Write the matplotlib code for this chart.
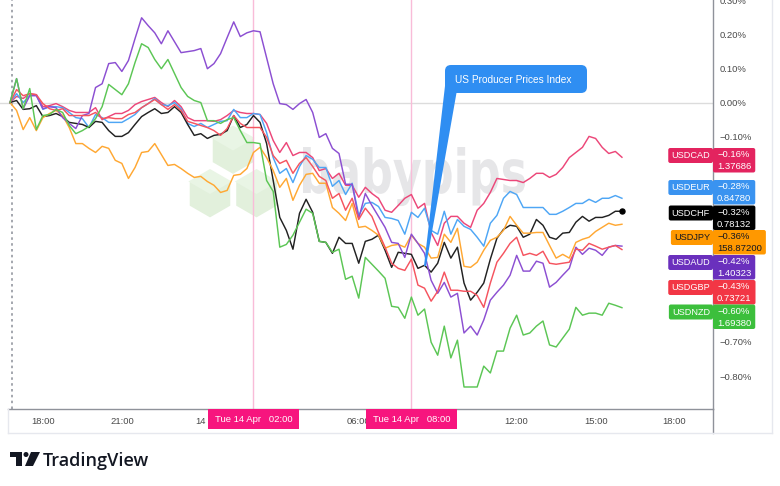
import numpy as np
import pandas as pd
import matplotlib
matplotlib.use('Agg')
import matplotlib.pyplot as plt
import matplotlib.dates as mdates
from matplotlib.patches import Rectangle, FancyBboxPatch, Polygon, Circle, PathPatch
from matplotlib.lines import Line2D
from matplotlib.transforms import IdentityTransform, Affine2D
from matplotlib.textpath import TextPath
from matplotlib.font_manager import FontProperties

plt.rcParams['font.family'] = ['Liberation Sans', 'DejaVu Sans']

# ---------------- data (percent change) ----------------
start_time = '2026-04-13 16:45'
bar_minutes = 15

usdcad = [0.000, 0.018, 0.012, 0.026, 0.023, -0.012, -0.009, -0.003, -0.012, -0.023,
          -0.029, -0.029, -0.029, -0.015, -0.050, -0.041, -0.032, -0.032, -0.023, -0.006,
          0.003, 0.009, 0.015, 0.000, -0.012, 0.006, -0.012, -0.044, -0.053, -0.053,
          -0.053, -0.055, -0.050, -0.038, -0.023, -0.029, -0.032, -0.032, -0.035, -0.061,
          -0.111, -0.146, -0.117, -0.155, -0.146, -0.146, -0.161, -0.199, -0.193, -0.222,
          -0.207, -0.242, -0.242, -0.277, -0.248, -0.266, -0.280, -0.315, -0.321, -0.301,
          -0.280, -0.269, -0.309, -0.295, -0.380, -0.418, -0.353, -0.333, -0.333, -0.353,
          -0.365, -0.315, -0.295, -0.263, -0.222, -0.225, -0.228, -0.228, -0.234, -0.222,
          -0.207, -0.207, -0.219, -0.210, -0.190, -0.161, -0.146, -0.131, -0.099, -0.105,
          -0.131, -0.149, -0.143, -0.160]

usdeur = [0.000, 0.026, 0.000, 0.020, 0.023, -0.020, -0.012, -0.012, -0.015, -0.029,
          -0.044, -0.047, -0.073, -0.035, -0.044, -0.058, -0.058, -0.058, -0.047, -0.035,
          -0.015, -0.003, 0.012, -0.006, -0.009, 0.000, -0.018, -0.061, -0.070, -0.061,
          -0.073, -0.064, -0.055, -0.053, -0.020, -0.044, -0.044, -0.032, -0.035, -0.088,
          -0.161, -0.207, -0.193, -0.234, -0.187, -0.155, -0.166, -0.190, -0.190, -0.245,
          -0.228, -0.269, -0.236, -0.330, -0.295, -0.292, -0.304, -0.336, -0.339, -0.345,
          -0.385, -0.321, -0.336, -0.309, -0.374, -0.385, -0.318, -0.385, -0.342, -0.362,
          -0.371, -0.394, -0.420, -0.353, -0.330, -0.280, -0.260, -0.269, -0.307, -0.307,
          -0.307, -0.307, -0.327, -0.327, -0.318, -0.307, -0.295, -0.295, -0.283, -0.292,
          -0.280, -0.280, -0.272, -0.280]

usdchf = [0.000, 0.006, -0.020, -0.018, -0.009, -0.041, -0.038, -0.032, -0.041, -0.058,
          -0.061, -0.064, -0.073, -0.055, -0.058, -0.082, -0.099, -0.099, -0.088, -0.064,
          -0.041, -0.029, -0.018, -0.032, -0.029, -0.012, -0.029, -0.064, -0.096, -0.091,
          -0.105, -0.096, -0.093, -0.082, -0.038, -0.073, -0.064, -0.038, -0.058, -0.120,
          -0.228, -0.336, -0.374, -0.429, -0.324, -0.283, -0.321, -0.406, -0.409, -0.441,
          -0.394, -0.412, -0.412, -0.470, -0.406, -0.400, -0.388, -0.432, -0.482, -0.438,
          -0.441, -0.444, -0.485, -0.476, -0.496, -0.470, -0.409, -0.455, -0.423, -0.528,
          -0.578, -0.555, -0.528, -0.458, -0.397, -0.371, -0.359, -0.362, -0.394, -0.385,
          -0.342, -0.359, -0.394, -0.400, -0.382, -0.380, -0.350, -0.333, -0.347, -0.336,
          -0.336, -0.330, -0.318, -0.318]

usdjpy = [0.000, -0.023, -0.079, -0.044, -0.082, -0.044, -0.032, -0.023, -0.038, -0.073,
          -0.120, -0.120, -0.134, -0.146, -0.128, -0.134, -0.169, -0.178, -0.222, -0.190,
          -0.146, -0.143, -0.120, -0.152, -0.184, -0.181, -0.193, -0.207, -0.219, -0.216,
          -0.231, -0.242, -0.263, -0.257, -0.213, -0.210, -0.193, -0.146, -0.131, -0.161,
          -0.199, -0.248, -0.222, -0.286, -0.242, -0.210, -0.207, -0.236, -0.236, -0.307,
          -0.324, -0.345, -0.295, -0.365, -0.362, -0.374, -0.388, -0.426, -0.418, -0.415,
          -0.423, -0.388, -0.412, -0.423, -0.455, -0.453, -0.385, -0.409, -0.368, -0.479,
          -0.482, -0.467, -0.432, -0.403, -0.394, -0.374, -0.333, -0.359, -0.382, -0.382,
          -0.380, -0.380, -0.418, -0.455, -0.444, -0.455, -0.409, -0.400, -0.394, -0.377,
          -0.365, -0.353, -0.359, -0.356]

usdaud = [0.000, 0.070, -0.018, 0.020, 0.020, -0.018, -0.012, -0.015, -0.044, -0.061,
          -0.076, -0.038, -0.032, 0.044, 0.055, 0.114, 0.117, 0.091, 0.123, 0.187,
          0.248, 0.225, 0.204, 0.172, 0.210, 0.178, 0.146, 0.149, 0.152, 0.158,
          0.099, 0.114, 0.143, 0.190, 0.236, 0.193, 0.204, 0.210, 0.207, 0.131,
          0.055, -0.003, -0.006, -0.020, -0.003, 0.009, -0.029, -0.102, -0.091, -0.134,
          -0.149, -0.239, -0.239, -0.339, -0.266, -0.301, -0.333, -0.365, -0.409, -0.412,
          -0.453, -0.385, -0.412, -0.441, -0.520, -0.558, -0.526, -0.569, -0.558, -0.674,
          -0.654, -0.680, -0.636, -0.578, -0.555, -0.534, -0.505, -0.447, -0.493, -0.493,
          -0.464, -0.470, -0.540, -0.526, -0.505, -0.485, -0.423, -0.444, -0.426, -0.432,
          -0.447, -0.423, -0.418, -0.420]

usdgbp = [0.000, 0.038, 0.020, 0.026, 0.023, -0.003, -0.018, -0.023, -0.018, -0.038,
          -0.038, -0.038, -0.038, -0.029, -0.047, -0.044, -0.047, -0.047, -0.035, -0.029,
          -0.015, -0.003, 0.009, -0.006, -0.020, -0.006, -0.023, -0.055, -0.061, -0.067,
          -0.073, -0.082, -0.096, -0.076, -0.038, -0.061, -0.073, -0.073, -0.073, -0.102,
          -0.155, -0.178, -0.169, -0.207, -0.178, -0.161, -0.187, -0.216, -0.228, -0.280,
          -0.266, -0.315, -0.280, -0.342, -0.309, -0.333, -0.380, -0.423, -0.470, -0.485,
          -0.491, -0.458, -0.534, -0.543, -0.581, -0.552, -0.496, -0.549, -0.549, -0.552,
          -0.552, -0.564, -0.599, -0.528, -0.467, -0.441, -0.412, -0.394, -0.447, -0.441,
          -0.447, -0.435, -0.470, -0.473, -0.470, -0.467, -0.429, -0.432, -0.412, -0.420,
          -0.429, -0.423, -0.418, -0.430]

usdnzd = [0.000, 0.070, -0.018, 0.041, -0.079, -0.038, -0.035, -0.020, -0.029, -0.067,
          -0.091, -0.082, -0.070, -0.047, -0.012, 0.053, 0.038, 0.023, 0.055, 0.117,
          0.172, 0.161, 0.126, 0.099, 0.126, 0.085, 0.044, 0.018, 0.006, 0.000,
          -0.053, -0.053, -0.061, -0.050, -0.044, -0.082, -0.117, -0.117, -0.120, -0.228,
          -0.260, -0.423, -0.415, -0.388, -0.350, -0.312, -0.324, -0.406, -0.409, -0.438,
          -0.429, -0.517, -0.508, -0.572, -0.453, -0.473, -0.493, -0.514, -0.596, -0.599,
          -0.631, -0.569, -0.622, -0.604, -0.701, -0.739, -0.654, -0.747, -0.695, -0.832,
          -0.832, -0.832, -0.771, -0.791, -0.727, -0.727, -0.660, -0.622, -0.680, -0.674,
          -0.654, -0.639, -0.709, -0.715, -0.689, -0.663, -0.599, -0.622, -0.616, -0.616,
          -0.622, -0.587, -0.593, -0.600]

symbols = ['USDCAD', 'USDEUR', 'USDCHF', 'USDJPY', 'USDAUD', 'USDGBP', 'USDNZD']
series = [usdcad, usdeur, usdchf, usdjpy, usdaud, usdgbp, usdnzd]
last_prices = ['1.37686', '0.84780', '0.78132', '158.87200', '1.40323', '0.73721', '1.69380']

event_times = ['2026-04-14 02:00', '2026-04-14 08:00']
event_labels = ['Tue 14 Apr   02:00', 'Tue 14 Apr   08:00']
session_break = '2026-04-13 16:50'

# visible time-axis labels (the 03:00 / 09:00 ones sit under the event tags)
tick_times = ['2026-04-13 18:00', '2026-04-13 21:00', '2026-04-14 00:00',
              '2026-04-14 06:00', '2026-04-14 12:00', '2026-04-14 15:00',
              '2026-04-14 18:00']
tick_labels = ['18:00', '21:00', '14', '06:00', '12:00', '15:00', '18:00']

# visible price-axis labels (the others are covered by the symbol tags)
y_tick_values = [0.30, 0.20, 0.10, 0.00, -0.10, -0.70, -0.80]

callout_text = 'US Producer Prices Index'

# ---------------- styles ----------------
line_colors = ['#ec4779', '#4ea6f5', '#222222', '#ffa833', '#8c4fd2', '#f5545f', '#5cc655']
box_colors = ['#e3245f', '#3a93f0', '#000000', '#ff9800', '#6a30bd', '#f23645', '#3cbf3c']
box_text_colors = ['white', 'white', 'white', '#131722', 'white', 'white', 'white']
label_tops = [148, 180, 205.5, 230, 255, 280, 304.5]   # pixel layout of right-side tags

W, H = 780, 486
fig = plt.figure(figsize=(W / 100, H / 100), dpi=100)
fig.patch.set_facecolor('white')
ax = fig.add_axes([0, (H - 409) / H, 713 / W, 409 / H])
ax.set_facecolor('none')

times = pd.date_range(start_time, periods=len(usdcad), freq=f'{bar_minutes}min')
t = mdates.date2num(times.to_pydatetime())
step = bar_minutes / 1440.0

ax.set_xlim(t[0] - 1.52 * step, t[0] + 106.84 * step)
ax.set_ylim(-0.8964, 0.2978)


def disp(x, y):
    return (x, H - y)


# ---------------- watermark (behind the axes) ----------------
def hex_pts(cx, cy, r):
    k = 0.866 * r
    pts = [(cx, cy - r), (cx + k, cy - 0.5 * r), (cx + k, cy + 0.5 * r),
           (cx, cy + r), (cx - k, cy + 0.5 * r), (cx - k, cy - 0.5 * r)]
    top = [(cx, cy - r), (cx + k, cy - 0.5 * r), (cx, cy), (cx - k, cy - 0.5 * r)]
    return [disp(*p) for p in pts], [disp(*p) for p in top]

for (cx, cy) in [(233, 150.5), (210, 194), (256.5, 194)]:
    hp, top = hex_pts(cx, cy, 25)
    fig.add_artist(Polygon(hp, closed=True, transform=IdentityTransform(),
                           fc='#e2f0dc', ec='white', lw=2, zorder=-2))
    fig.add_artist(Polygon(top, closed=True, transform=IdentityTransform(),
                           fc='#e9f5e5', ec='none', zorder=-1.9))

fp = FontProperties(family='DejaVu Sans', weight='bold')
tp = TextPath((0, 0), 'babypips', size=100, prop=fp)
ext = tp.get_extents()
bext = TextPath((0, 0), 'b', size=100, prop=fp).get_extents()
sx = 222 / ext.width
sy = 46 / bext.y1
tr = Affine2D().translate(-ext.x0, 0).scale(sx, sy).translate(303, H - 193)
fig.add_artist(PathPatch(tr.transform_path(tp), transform=IdentityTransform(),
                         fc='#e6e6e8', ec='none', zorder=-1.5))

# ---------------- axes decorations ----------------
ax.axhline(0, color='#dcdcdc', lw=1, zorder=1)
for et in event_times:
    ax.axvline(mdates.date2num(pd.Timestamp(et)), color='#f9bcd8', lw=1, zorder=1)
ax.axvline(mdates.date2num(pd.Timestamp(session_break)), color='#9598a1', lw=1.2,
           ls=(0, (1.5, 2)), zorder=1)

for s, c in zip(series, line_colors):
    ax.plot(t[:len(s)], s, color=c, lw=1.05, zorder=3, solid_joinstyle='round')
ax.plot(t[len(usdchf) - 1], usdchf[-1], 'o', ms=3.6, color='#000000', zorder=4)

for sp in ['top', 'left', 'bottom']:
    ax.spines[sp].set_visible(False)
ax.spines['right'].set_color('#8f929a')
ax.spines['right'].set_linewidth(1)

ax.set_yticks(y_tick_values)
ax.set_yticklabels([('0.00%' if abs(v) < 1e-9 else f'{v:.2f}%'.replace('-', '\u2212'))
                    for v in y_tick_values])
ax.yaxis.tick_right()
ax.tick_params(axis='y', length=0, pad=5, labelsize=6.8, labelcolor='#4a4a4a')

ax.set_xticks(mdates.date2num(pd.to_datetime(tick_times).to_pydatetime()))
ax.set_xticklabels(tick_labels)
ax.tick_params(axis='x', length=0, pad=6, labelsize=6.8, labelcolor='#4a4a4a')

# frame lines
for (x0, y0, x1, y1, col) in [(8, 409, 713, 409, '#8f929a'), (713, 409, 713, 433, '#8f929a'),
                              (8, 433, 772, 433, '#e6e8ee'), (772, 0, 772, 433, '#e6e8ee'),
                              (8, 409, 8, 433, '#e6e8ee')]:
    fig.add_artist(Line2D([x0, x1], [H - y0, H - y1], transform=IdentityTransform(),
                          color=col, lw=1, zorder=1))

# ---------------- event labels on time axis ----------------
for et, lab in zip(event_times, event_labels):
    xp = ax.transData.transform((mdates.date2num(pd.Timestamp(et)), 0))[0]
    fig.add_artist(Rectangle(disp(xp - 45.5, 429), 91, 20, transform=IdentityTransform(),
                             fc='#f7157e', ec='none', zorder=2))
    fig.text(xp, H - 419.5, lab, transform=IdentityTransform(), ha='center', va='center',
             color='white', fontsize=6.8, zorder=3)

# ---------------- callout ----------------
call_col = '#2f8ef2'
fig.add_artist(FancyBboxPatch(disp(445, 93), 142, 28, boxstyle='round,pad=0,rounding_size=6',
                              transform=IdentityTransform(), fc=call_col, ec='none', zorder=5))
fig.add_artist(Polygon([disp(445, 86), disp(457, 90), disp(426, 266), disp(424, 266)],
                       closed=True, transform=IdentityTransform(), fc=call_col, ec='none', zorder=5))
fig.text(455, H - 79.5, callout_text, transform=IdentityTransform(), ha='left', va='center',
         color='white', fontsize=7.3, zorder=6)

# ---------------- right side tags ----------------
fig.canvas.draw()
renderer = fig.canvas.get_renderer()
for sym, s, price, bc, tc, top in zip(symbols, series, last_prices, box_colors,
                                      box_text_colors, label_tops):
    pct = f'{s[-1]:.2f}%'.replace('-', '\u2212')
    tn = fig.text(710, H - (top + 7.5), sym, transform=IdentityTransform(), ha='right',
                  va='center', color=tc, fontsize=6.6, zorder=8)
    wn = tn.get_window_extent(renderer).width
    fig.add_artist(FancyBboxPatch(disp(713 - wn - 6, top + 15), wn + 6, 15,
                                  boxstyle='round,pad=0,rounding_size=2', transform=IdentityTransform(),
                                  fc=bc, ec='none', zorder=7))
    t1 = fig.text(717, H - (top + 6.5), pct, transform=IdentityTransform(), ha='left',
                  va='center', color=tc, fontsize=6.8, zorder=8)
    t2 = fig.text(717, H - (top + 18.5), price, transform=IdentityTransform(), ha='left',
                  va='center', color=tc, fontsize=6.8, zorder=8)
    wv = max(t1.get_window_extent(renderer).width, t2.get_window_extent(renderer).width)
    fig.add_artist(FancyBboxPatch(disp(713, top + 24.5), wv + 8, 24.5,
                                  boxstyle='round,pad=0,rounding_size=2', transform=IdentityTransform(),
                                  fc=bc, ec='none', zorder=7))

# ---------------- TradingView logo ----------------
logo = '#131722'
fig.add_artist(Rectangle(disp(10, 457), 12, 5, transform=IdentityTransform(), fc=logo, ec='none'))
fig.add_artist(Rectangle(disp(16, 466), 6, 14, transform=IdentityTransform(), fc=logo, ec='none'))
fig.add_artist(Circle(disp(26, 454.5), 2.5, transform=IdentityTransform(), fc=logo, ec='none'))
fig.add_artist(Polygon([disp(31, 452), disp(40, 452), disp(33, 466), disp(25, 466)], closed=True,
                       transform=IdentityTransform(), fc=logo, ec='none'))
fig.text(43, H - 466, 'TradingView', transform=IdentityTransform(), ha='left', va='baseline',
         color=logo, fontsize=13, family=['Open Sans', 'DejaVu Sans'], fontweight='semibold')

fig.savefig('out.png', dpi=100)
